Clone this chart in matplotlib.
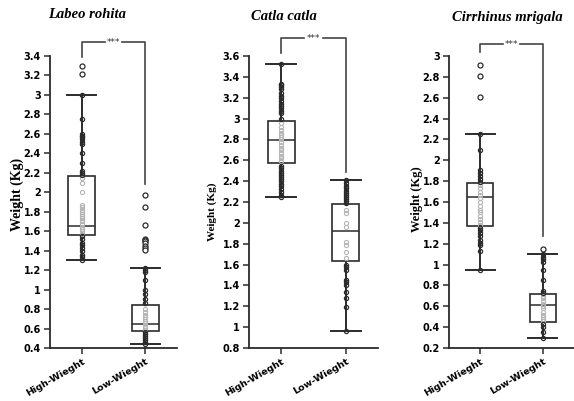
import numpy as np
import matplotlib
matplotlib.use("Agg")
import matplotlib.pyplot as plt
import matplotlib.transforms as mtransforms

# ---------- data ----------
groups = ["High-Wieght", "Low-Wieght"]
species = ["Labeo rohita", "Catla catla", "Cirrhinus mrigala"]

# box stats per species: (whislo, q1, med, q3, whishi) for High, Low
rohita_high_stats = [1.30, 1.56, 1.65, 2.17, 3.00]
rohita_low_stats = [0.44, 0.57, 0.65, 0.84, 1.22]
catla_high_stats = [2.25, 2.57, 2.79, 2.98, 3.52]
catla_low_stats = [0.96, 1.63, 1.92, 2.18, 2.41]
mrigala_high_stats = [0.95, 1.37, 1.65, 1.78, 2.25]
mrigala_low_stats = [0.30, 0.45, 0.61, 0.72, 1.10]

rohita_high_pts = [3.30, 3.21, 3.00, 2.75, 2.60, 2.58, 2.57, 2.55, 2.52, 2.50,
                   2.40, 2.30, 2.22, 2.20, 2.18, 2.15, 2.10, 2.00, 1.87, 1.85,
                   1.82, 1.80, 1.78, 1.76, 1.74, 1.72, 1.70, 1.67, 1.64, 1.62,
                   1.60, 1.57, 1.55, 1.52, 1.48, 1.46, 1.43, 1.40, 1.36, 1.33, 1.30]
rohita_low_pts = [1.97, 1.85, 1.66, 1.52, 1.51, 1.50, 1.48, 1.45, 1.43, 1.41,
                  1.22, 1.20, 1.18, 1.10, 1.00, 0.95, 0.90, 0.86, 0.80, 0.77,
                  0.74, 0.72, 0.70, 0.68, 0.66, 0.63, 0.61, 0.59, 0.56, 0.54,
                  0.52, 0.50, 0.48, 0.46, 0.44]
catla_high_pts = [3.52, 3.33, 3.32, 3.30, 3.28, 3.25, 3.22, 3.20, 3.17, 3.14,
                  3.12, 3.10, 3.07, 3.05, 3.00, 2.96, 2.92, 2.89, 2.86, 2.84,
                  2.82, 2.80, 2.78, 2.75, 2.72, 2.70, 2.67, 2.64, 2.62, 2.59,
                  2.55, 2.53, 2.50, 2.48, 2.46, 2.44, 2.42, 2.40, 2.37, 2.35,
                  2.32, 2.30, 2.27, 2.25]
catla_low_pts = [2.41, 2.38, 2.35, 2.33, 2.31, 2.29, 2.27, 2.25, 2.23, 2.21,
                 2.19, 2.12, 2.09, 2.00, 1.96, 1.82, 1.79, 1.72, 1.66, 1.60,
                 1.58, 1.55, 1.45, 1.43, 1.40, 1.34, 1.28, 1.19, 0.96]
mrigala_high_pts = [2.91, 2.81, 2.61, 2.25, 2.10, 1.91, 1.88, 1.85, 1.82, 1.79,
                    1.76, 1.73, 1.70, 1.67, 1.64, 1.60, 1.56, 1.52, 1.50, 1.47,
                    1.44, 1.41, 1.38, 1.35, 1.33, 1.30, 1.27, 1.24, 1.21, 1.19,
                    1.13, 0.95]
mrigala_low_pts = [1.15, 1.10, 1.07, 1.05, 1.02, 0.95, 0.85, 0.75, 0.73, 0.70,
                   0.68, 0.65, 0.62, 0.60, 0.58, 0.55, 0.52, 0.50, 0.48, 0.46,
                   0.43, 0.40, 0.35, 0.30]

y_limits = [(0.4, 3.4), (0.8, 3.6), (0.2, 3.0)]
# significance bracket: top, left-leg end, right-leg end
brackets = [(3.54, 3.39, 2.08), (3.77, 3.63, 2.49), (3.115, 3.04, 1.27)]

# ---------- layout ----------
W, H = 574, 401
axes_px = [(50, 177), (249, 378), (449, 574)]   # left/right in pixels
ax_top, ax_bot = 56, 348
title_px = [(87, 15), (284, 17), (507, 18)]
ylabel_px = [(17, 194, 10.0), (212, 212, 8.0), (417, 199, 9.0)]

stats_all = [(rohita_high_stats, rohita_low_stats),
             (catla_high_stats, catla_low_stats),
             (mrigala_high_stats, mrigala_low_stats)]
pts_all = [(rohita_high_pts, rohita_low_pts),
           (catla_high_pts, catla_low_pts),
           (mrigala_high_pts, mrigala_low_pts)]

DARK = "#2b2b2b"
LIGHT = "#b5b5b5"

fig = plt.figure(figsize=(W / 100, H / 100), dpi=100)
# shift rotated x labels so their end sits right of the tick, like the original
label_shift = mtransforms.ScaledTranslation(0.20, -0.03, fig.dpi_scale_trans)

for i in range(3):
    l, r = axes_px[i]
    ax = fig.add_axes([l / W, 1 - ax_bot / H, (r - l) / W, (ax_bot - ax_top) / H])

    bxp_stats = []
    for s, name in zip(stats_all[i], groups):
        bxp_stats.append(dict(whislo=s[0], q1=s[1], med=s[2], q3=s[3],
                              whishi=s[4], fliers=[], label=name))
    ax.bxp(bxp_stats, positions=[1, 2], widths=0.42, capwidths=0.46,
           showfliers=False, patch_artist=True,
           boxprops=dict(facecolor="none", edgecolor=DARK, linewidth=1.2),
           medianprops=dict(color=DARK, linewidth=1.1),
           whiskerprops=dict(color=DARK, linewidth=1.4),
           capprops=dict(color=DARK, linewidth=1.4))

    for pos, s, pts in zip([1, 2], stats_all[i], pts_all[i]):
        pts = np.array(pts)
        inside = (pts > s[1]) & (pts < s[3])
        outlier = (pts > s[4]) | (pts < s[0])
        mid = ~inside & ~outlier
        ax.plot(np.full(inside.sum(), pos), pts[inside], "o", ms=3,
                mfc="none", mec=LIGHT, mew=0.8, zorder=3)
        ax.plot(np.full(mid.sum(), pos), pts[mid], "o", ms=3,
                mfc="none", mec=DARK, mew=0.9, zorder=4)
        ax.plot(np.full(outlier.sum(), pos), pts[outlier], "o", ms=3.6,
                mfc="white", mec=DARK, mew=0.9, zorder=4)

    ax.set_xlim(0.5, 2.5)
    ax.set_ylim(*y_limits[i])
    yt = np.round(np.arange(y_limits[i][0], y_limits[i][1] + 0.01, 0.2), 2)
    ax.set_yticks(yt)
    ax.set_yticklabels([f"{v:g}" for v in yt], fontweight="bold", fontsize=7)
    ax.set_xticks([1, 2])
    ax.set_xticklabels(groups, rotation=30, ha="right", va="top",
                       rotation_mode="anchor", fontweight="bold", fontsize=6.8)
    for lab in ax.get_xticklabels():
        lab.set_transform(lab.get_transform() + label_shift)
    ax.tick_params(axis="both", length=4.5, width=1.1, color=DARK, pad=2)
    for sp in ["top", "right"]:
        ax.spines[sp].set_visible(False)
    for sp in ["left", "bottom"]:
        ax.spines[sp].set_linewidth(1.3)
        ax.spines[sp].set_color(DARK)

    # significance bracket
    top, lft, rgt = brackets[i]
    ax.plot([1, 1, 1.36], [lft, top, top], color="#444444", lw=1.2, clip_on=False)
    ax.plot([1.64, 2, 2], [top, top, rgt], color="#444444", lw=1.2, clip_on=False)
    ax.text(1.5, top, "***", ha="center", va="center", fontsize=6.5,
            color="#333333", clip_on=False)

    tx, ty = title_px[i]
    fig.text(tx / W, 1 - ty / H, species[i], ha="center", va="center",
             family="Liberation Serif", style="italic", fontweight="bold",
             fontsize=10.5)
    lx, ly, lfs = ylabel_px[i]
    fig.text(lx / W, 1 - ly / H, "Weight (Kg)", ha="center", va="center",
             rotation=90, family="Liberation Serif", fontweight="bold",
             fontsize=lfs)

fig.savefig("out.png", dpi=100)
